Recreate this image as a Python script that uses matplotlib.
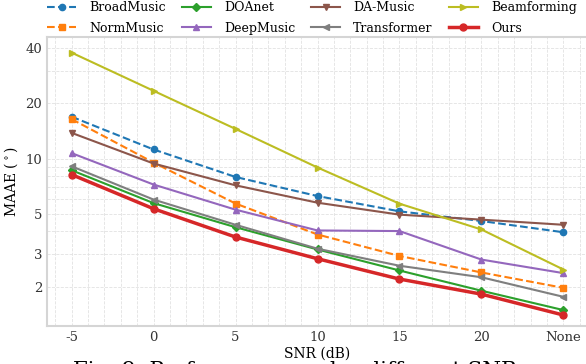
import matplotlib.pyplot as plt
import numpy as np
from matplotlib.ticker import FixedLocator, MultipleLocator, NullFormatter

plt.rcParams['font.family'] = ['DejaVu Serif']

# SNR categories
snr_labels = ["-5", "0", "5", "10", "15", "20", "None"]

# MAAE values per method (deg)
broadmusic = [16.9, 11.2, 7.93, 6.24, 5.15, 4.56, 3.96]
normmusic = [16.4, 9.5, 5.68, 3.85, 2.94, 2.39, 1.97]
doanet = [8.63, 5.71, 4.22, 3.19, 2.45, 1.90, 1.49]
deepmusic = [10.7, 7.21, 5.26, 4.05, 4.02, 2.81, 2.37]
da_music = [13.8, 9.39, 7.14, 5.74, 4.94, 4.64, 4.35]
transformer = [9.07, 5.97, 4.35, 3.22, 2.60, 2.25, 1.76]
beamforming = [37.8, 23.4, 14.5, 8.93, 5.67, 4.10, 2.48]
ours = [8.17, 5.32, 3.73, 2.84, 2.20, 1.82, 1.40]

x = np.arange(len(snr_labels))

fig = plt.figure(figsize=(5.86, 3.64), dpi=100)
ax = fig.add_axes([47 / 586, 38 / 364, 541 / 586, 289 / 364])

ax.plot(x, broadmusic, "--o", c="tab:blue", lw=1.5, ms=4.5, label="BroadMusic")
ax.plot(x, normmusic, "--s", c="tab:orange", lw=1.5, ms=4.5, label="NormMusic")
ax.plot(x, doanet, "-D", c="tab:green", lw=1.5, ms=4.5, label="DOAnet")
ax.plot(x, deepmusic, "-^", c="tab:purple", lw=1.5, ms=4.5, label="DeepMusic")
ax.plot(x, da_music, "-v", c="tab:brown", lw=1.5, ms=4.5, label="DA-Music")
ax.plot(x, transformer, "-<", c="tab:gray", lw=1.5, ms=4.5, label="Transformer")
ax.plot(x, beamforming, "->", c="tab:olive", lw=1.5, ms=4.5, label="Beamforming")
ax.plot(x, ours, "-o", c="tab:red", lw=2.5, ms=5, label="Ours")

ax.set_yscale("log")
ax.set_ylim(1.22, 46)
ax.set_xlim(-0.3, 6.3)
ax.set_xticks(x)
ax.set_xticklabels(snr_labels)
ax.xaxis.set_minor_locator(MultipleLocator(0.2))
ax.yaxis.set_major_locator(FixedLocator([2, 3, 5, 10, 20, 40]))
ax.set_yticklabels(["2", "3", "5", "10", "20", "40"])
ax.yaxis.set_minor_formatter(NullFormatter())
ax.tick_params(which="both", length=0, labelsize=9.5, colors="#333333")
ax.grid(True, which="both", ls="--", lw=0.6, color="#e2e2e2")
ax.set_axisbelow(True)
for s in ax.spines.values():
    s.set_color("#d5d5d5")
    s.set_linewidth(1.5)

ax.set_xlabel("SNR (dB)", fontsize=10, labelpad=2)
ax.set_ylabel("MAAE ($^\\circ$)", fontsize=10, labelpad=4)

fig.legend(loc="upper left", bbox_to_anchor=(46 / 586, 1.0), ncol=4, frameon=False,
           fontsize=9, handlelength=2.3, handletextpad=1.05, columnspacing=1.3,
           labelspacing=0.6, borderpad=0.1, borderaxespad=0)

# caption of the paper figure, mostly cut off at the bottom edge
fig.text(73 / 586, -0.032, "Fig. 9: Performance under different SNRs.", ha="left",
         va="baseline", fontsize=15.4)

fig.savefig("out.png", dpi=100)
